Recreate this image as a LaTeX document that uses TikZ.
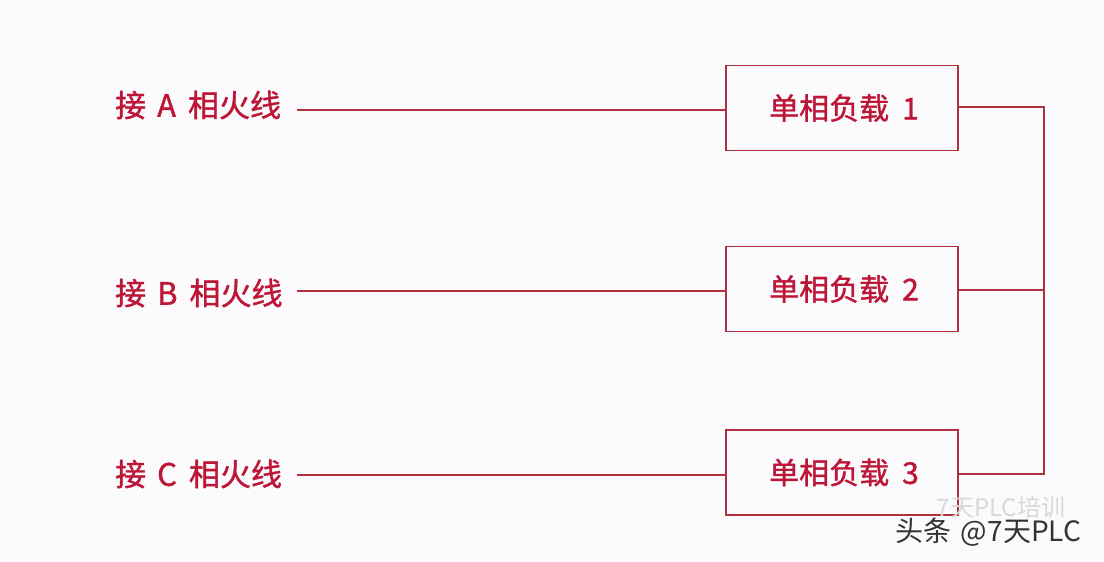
\documentclass[tikz,border=0pt]{standalone}
\usepackage{fontspec}
\newfontfamily\cjk[FakeBold=1.2]{Noto Sans CJK SC}
\newfontfamily\cjkw{Noto Sans CJK SC}
\definecolor{txtred}{RGB}{190,22,55}
\definecolor{linered}{RGB}{178,48,62}
\definecolor{bg}{RGB}{251,251,253}
\begin{document}
\begin{tikzpicture}[x=1pt,y=-1pt,
  lbl/.style={font=\cjk\fontsize{31}{33}\selectfont, text=txtred, inner sep=0pt, anchor=west},
  loadbox/.style={draw=linered, line width=1.8pt, minimum width=232pt, minimum height=85pt, font=\cjk\fontsize{30}{32}\selectfont, text=txtred, inner sep=0pt},
  wire/.style={draw=linered, line width=1.4pt}]
\fill[bg] (0,0) rectangle (1104,562);
\useasboundingbox (0,0) rectangle (1104,562);
% labels
\node[lbl] (la) at (115,105) {接\hspace{11pt}A\hspace{12pt}相火线};
\node[lbl] (lb) at (115,293) {接\hspace{11pt}B\hspace{12pt}相火线};
\node[lbl] (lc) at (115,474) {接\hspace{11pt}C\hspace{12pt}相火线};
% boxes
\node[loadbox] (b1) at (842,108) {\hspace{4pt}单相负载\hspace{13pt}1};
\node[loadbox] (b2) at (842,289) {\hspace{4pt}单相负载\hspace{13pt}2};
\node[loadbox] (b3) at (842,472.5) {\hspace{4pt}单相负载\hspace{13pt}3};
% left wires
\coordinate (sa) at (297,110);
\coordinate (sb) at (297,291);
\coordinate (sc) at (297,475);
\draw[wire] (sa) -- (sa -| b1.west);
\draw[wire] (sb) -- (sb -| b2.west);
\draw[wire] (sc) -- (sc -| b3.west);
% bus
\coordinate (bt) at (1044,107);
\coordinate (bm) at (1044,290);
\coordinate (bb) at (1044,474);
\draw[wire] (bt -| b1.east) -- (bt) -- (bb) -- (bb -| b3.east);
\draw[wire] (bm -| b2.east) -- (bm);
% watermark
\node[font=\cjkw\fontsize{24}{26}\selectfont, text=black!15, inner sep=0pt] (wm1) at (1001,507) {7天PLC培训};
\node[font=\cjkw\fontsize{28}{30}\selectfont, text=black!80, inner sep=0pt] (wm2) at (988,532) {头条\hspace{10pt}@7天PLC};
\end{tikzpicture}
\end{document}
